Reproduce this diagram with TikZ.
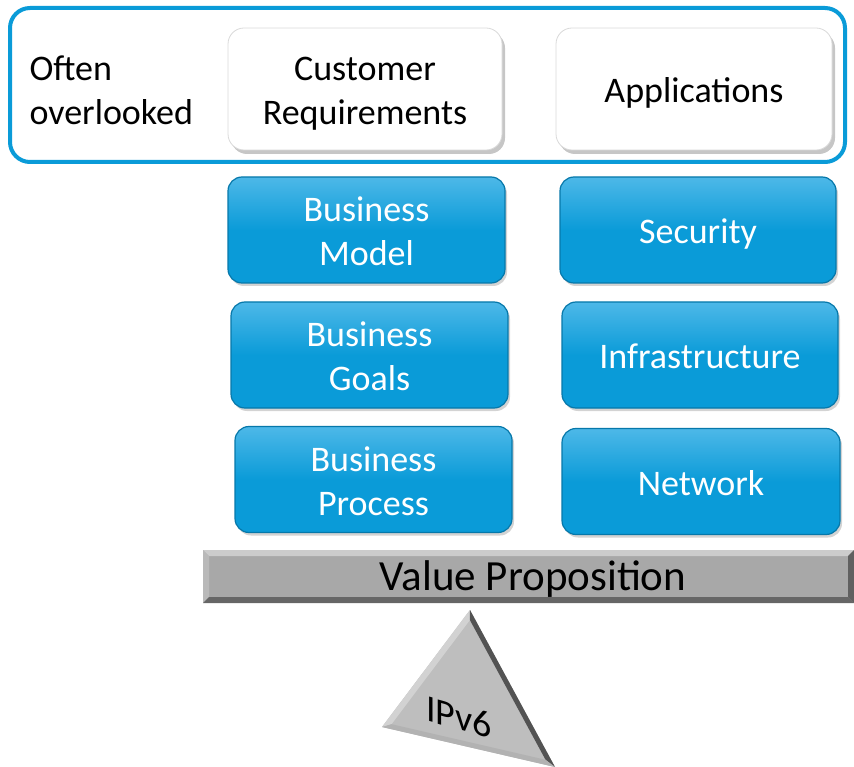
\documentclass[tikz,border=0pt]{standalone}
\usepackage{fontspec}
\setmainfont{Carlito}
\usetikzlibrary{shadows,calc}
\definecolor{hpblue}{HTML}{0A9BD8}
\definecolor{hpbluedark}{HTML}{0678AA}
\definecolor{hpbluelight}{HTML}{4DB8E8}
\definecolor{bargray}{HTML}{A8A8A8}
\definecolor{trigray}{HTML}{BEBEBE}
% lowered, centred block of lines inside a box (box dimensions kept)
\newcommand\boxlines[1]{\raisebox{-5pt}[\height][\depth]{\begin{tabular}{@{}c@{}}#1\end{tabular}}}
\tikzset{
  boxtext/.style={font=\fontsize{36}{44}\selectfont},
  bluebox/.style={boxtext, rounded corners=14pt, minimum width=276pt, minimum height=106pt,
    text=white, top color=hpbluelight, bottom color=hpblue,
    middle color=hpblue, draw=hpbluedark, line width=1.2pt,
    drop shadow={opacity=0.35, shadow xshift=2pt, shadow yshift=-3pt}},
  whitebox/.style={boxtext, rounded corners=16pt, minimum width=274pt, minimum height=122pt,
    text=black, fill=white, draw=gray!30, line width=0.8pt,
    drop shadow={opacity=0.45, shadow xshift=3pt, shadow yshift=-4pt}},
  plain/.style={boxtext, align=left, text=black}
}
\begin{document}
\begin{tikzpicture}[x=1pt, y=-1pt]
\useasboundingbox (0,0) rectangle (854,767);

% frame around the often overlooked items
\draw[hpblue, line width=4pt, rounded corners=20pt] (10,8) rectangle (845,162);
\node[plain, anchor=west] (often) at (26,90) {Often\\overlooked};
\node[whitebox] (cust) at (365,89) {\boxlines{Customer\\Requirements}};
\node[whitebox, minimum width=276pt] (apps) at (694,89) {\boxlines{Applications}};

% business side
\node[bluebox, minimum width=277pt] (bmodel) at (366.5,230) {\boxlines{Business\\Model}};
\node[bluebox, minimum width=277pt] (bgoals) at (369.5,355) {\boxlines{Business\\Goals}};
\node[bluebox, minimum width=277pt] (bproc) at (373.5,479.5) {\boxlines{Business\\Process}};

% technical side
\node[bluebox] (sec) at (698,230) {\boxlines{Security}};
\node[bluebox] (infra) at (700,355) {\boxlines{Infrastructure}};
\node[bluebox, minimum width=278pt] (net) at (701,481.5) {\boxlines{Network}};

% value proposition beam with bevelled edges
\fill[bargray] (203,550) rectangle (854,603);
\fill[gray!40] (203,550) -- (854,550) -- (848,556) -- (209,556) -- cycle;
\fill[gray!55] (203,550) -- (209,556) -- (209,597) -- (203,603) -- cycle;
\fill[gray!80!black] (203,603) -- (854,603) -- (848,597) -- (209,597) -- cycle;
\fill[gray!75!black] (854,550) -- (854,603) -- (848,597) -- (848,556) -- cycle;
\node[font=\fontsize{43}{50}\selectfont, text=black] (value) at (533,579) {Value Proposition};

% fulcrum with bevelled faces
\coordinate (ta) at (470,610);
\coordinate (tb) at (382,727);
\coordinate (tc) at (555,767);
\coordinate (cen) at (469,701.3);
\coordinate (ia) at ($(ta)!0.11!(cen)$);
\coordinate (ib) at ($(tb)!0.11!(cen)$);
\coordinate (ic) at ($(tc)!0.11!(cen)$);
\fill[trigray] (ta) -- (tb) -- (tc) -- cycle;
\fill[gray!35] (ta) -- (tb) -- (ib) -- (ia) -- cycle;
\fill[gray!65!black] (ta) -- (tc) -- (ic) -- (ia) -- cycle;
\fill[gray!60] (tb) -- (tc) -- (ic) -- (ib) -- cycle;
\begin{scope}[shift={(459,717)}, yslant=-0.28]
  \node[font=\fontsize{38}{40}\selectfont, transform shape] (ipv6) at (0,0) {IPv6};
\end{scope}
\end{tikzpicture}
\end{document}
